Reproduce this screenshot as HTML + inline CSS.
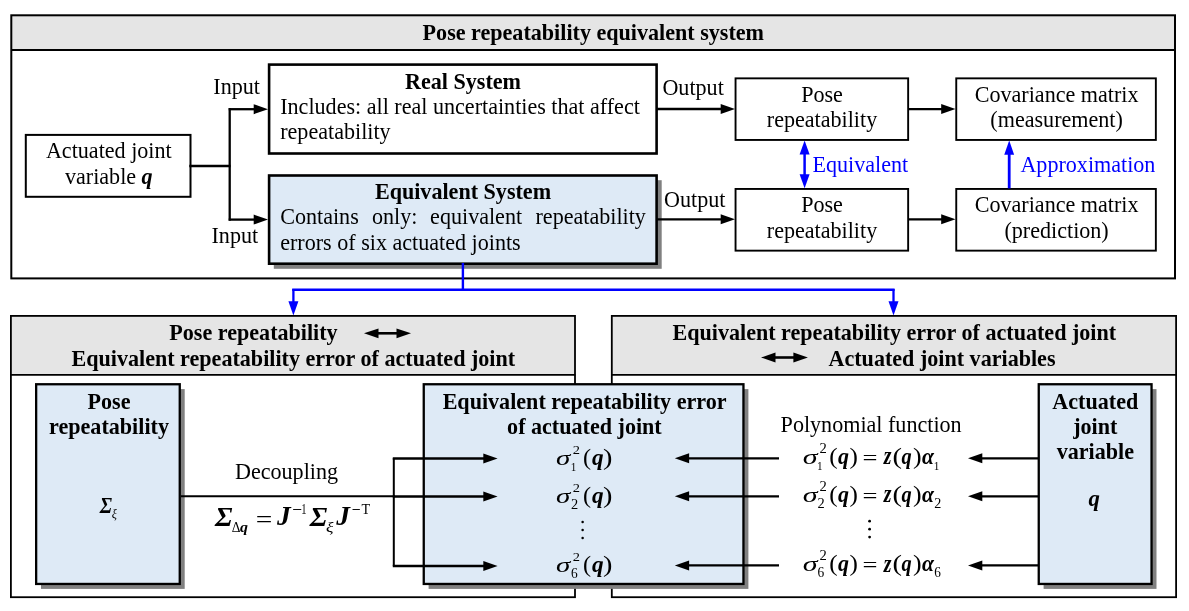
<!DOCTYPE html>
<html><head><meta charset="utf-8"><style>
html,body{margin:0;padding:0;background:#fff;}
svg{display:block;will-change:transform;}
text{font-family:"Liberation Serif",serif;font-size:22.1px;}
</style></head><body>
<svg width="1189" height="611" viewBox="0 0 1189 611">
<rect width="1189" height="611" fill="#fff"/>
<rect x="11" y="15.3" width="1164" height="34.8" fill="#e5e5e5"/>
<rect x="11.3" y="15.3" width="1163.7" height="263.1" fill="none" stroke="#000" stroke-width="2"/>
<line x1="11" y1="50.1" x2="1175" y2="50.1" stroke="#000" stroke-width="2"/>
<text x="593.3" y="40" text-anchor="middle" font-weight="bold">Pose repeatability equivalent system</text>
<rect x="25.8" y="134.9" width="164.7" height="61.9" fill="#fff" stroke="#000" stroke-width="2"/>
<text x="108.8" y="158" text-anchor="middle">Actuated joint</text>
<text x="108.8" y="183.7" text-anchor="middle">variable <tspan font-weight="bold" font-style="italic">q</tspan></text>
<line x1="189.3" y1="166" x2="230.6" y2="166" stroke="#000" stroke-width="2.5"/>
<line x1="229.7" y1="108.1" x2="229.7" y2="220.7" stroke="#000" stroke-width="2.3"/>
<line x1="228.7" y1="109.2" x2="254.7" y2="109.2" stroke="#000" stroke-width="2.3"/>
<polygon points="268,109.2 253.7,104.2 253.7,114.2" fill="#000"/>
<line x1="228.7" y1="219.6" x2="254.7" y2="219.6" stroke="#000" stroke-width="2.3"/>
<polygon points="268,219.6 253.7,214.6 253.7,224.6" fill="#000"/>
<text x="213.3" y="94.4">Input</text>
<text x="211.5" y="242.9">Input</text>
<rect x="269.1" y="64.6" width="387.5" height="88.9" fill="#fff" stroke="#000" stroke-width="2.6"/>
<text x="463" y="89.2" text-anchor="middle" font-weight="bold">Real System</text>
<text x="280.2" y="113.7">Includes: all real uncertainties that affect</text>
<text x="280.2" y="138.8">repeatability</text>
<rect x="273.8" y="180.2" width="387.9" height="88.6" fill="#808080"/>
<rect x="269.1" y="175.5" width="387.5" height="88.2" fill="#deeaf6" stroke="#000" stroke-width="2.6"/>
<text x="463" y="198.6" text-anchor="middle" font-weight="bold">Equivalent System</text>
<text x="280.2" y="223.6"><tspan x="280.2">Contains</tspan><tspan x="372">only:</tspan><tspan x="430.1">equivalent</tspan><tspan x="535.5">repeatability</tspan></text>
<text x="280.2" y="249.6">errors of six actuated joints</text>
<line x1="657" y1="109" x2="721.7" y2="109" stroke="#000" stroke-width="2.3"/>
<polygon points="735,109 720.7,104.0 720.7,114.0" fill="#000"/>
<line x1="657" y1="219.3" x2="721.7" y2="219.3" stroke="#000" stroke-width="2.3"/>
<polygon points="735,219.3 720.7,214.3 720.7,224.3" fill="#000"/>
<text x="662.4" y="94.6">Output</text>
<text x="664" y="206.8">Output</text>
<rect x="735.55" y="78.35" width="172.6" height="61.6" fill="#fff" stroke="#000" stroke-width="1.9"/>
<rect x="956.25" y="78.35" width="199.6" height="61.6" fill="#fff" stroke="#000" stroke-width="1.9"/>
<rect x="735.55" y="188.95" width="172.6" height="61.7" fill="#fff" stroke="#000" stroke-width="1.9"/>
<rect x="956.25" y="188.95" width="199.6" height="61.7" fill="#fff" stroke="#000" stroke-width="1.9"/>
<text x="822" y="102.1" text-anchor="middle">Pose</text>
<text x="822" y="127.3" text-anchor="middle">repeatability</text>
<text x="822" y="212.3" text-anchor="middle">Pose</text>
<text x="822" y="237.9" text-anchor="middle">repeatability</text>
<line x1="909" y1="109.1" x2="942.2" y2="109.1" stroke="#000" stroke-width="2.3"/>
<polygon points="955.5,109.1 941.2,104.1 941.2,114.1" fill="#000"/>
<line x1="909" y1="219.3" x2="942.2" y2="219.3" stroke="#000" stroke-width="2.3"/>
<polygon points="955.5,219.3 941.2,214.3 941.2,224.3" fill="#000"/>
<text x="1056.6" y="101.7" text-anchor="middle">Covariance matrix</text>
<text x="1056.6" y="127" text-anchor="middle">(measurement)</text>
<text x="1056.6" y="211.9" text-anchor="middle">Covariance matrix</text>
<text x="1056.6" y="237.9" text-anchor="middle">(prediction)</text>
<line x1="804.6" y1="153" x2="804.6" y2="176" stroke="#0000ff" stroke-width="2.5"/>
<polygon points="804.6,140.4 799.6,154.4 809.6,154.4" fill="#0000ff"/>
<polygon points="804.6,188.2 799.6,174.2 809.6,174.2" fill="#0000ff"/>
<line x1="1009.2" y1="188.4" x2="1009.2" y2="153.8" stroke="#0000ff" stroke-width="2.8"/>
<polygon points="1009.2,140.6 1004.25,154.8 1014.15,154.8" fill="#0000ff"/>
<text x="812.5" y="172.3" fill="#0000ff">Equivalent</text>
<text x="1020.4" y="172.3" fill="#0000ff">Approximation</text>
<line x1="462.9" y1="263" x2="462.9" y2="291" stroke="#0000ff" stroke-width="2.4"/>
<line x1="292.2" y1="289.75" x2="894.6" y2="289.75" stroke="#0000ff" stroke-width="2.3"/>
<line x1="293.4" y1="289" x2="293.4" y2="302.2" stroke="#0000ff" stroke-width="2.3"/>
<polygon points="293.4,315.5 288.4,301.2 298.4,301.2" fill="#0000ff"/>
<line x1="893.5" y1="289" x2="893.5" y2="302.2" stroke="#0000ff" stroke-width="2.3"/>
<polygon points="893.5,315.5 888.5,301.2 898.5,301.2" fill="#0000ff"/>
<rect x="10.75" y="315.7" width="564.4" height="59" fill="#e5e5e5"/>
<rect x="10.9" y="315.9" width="564.1" height="281.3" fill="none" stroke="#000" stroke-width="1.8"/>
<line x1="10.5" y1="374.9" x2="575.4" y2="374.9" stroke="#000" stroke-width="1.6"/>
<rect x="611.65" y="315.7" width="564.6" height="59" fill="#e5e5e5"/>
<rect x="611.8" y="315.9" width="564.3" height="281.3" fill="none" stroke="#000" stroke-width="1.8"/>
<line x1="611.4" y1="374.9" x2="1176.5" y2="374.9" stroke="#000" stroke-width="1.6"/>
<text x="253.5" y="340" text-anchor="middle" font-weight="bold">Pose repeatability</text>
<line x1="374" y1="333.3" x2="401" y2="333.3" stroke="#000" stroke-width="2.6"/>
<polygon points="364,333.3 378.5,328.4 378.5,338.2" fill="#000"/>
<polygon points="411,333.3 396.5,328.4 396.5,338.2" fill="#000"/>
<text x="293.3" y="365.9" text-anchor="middle" font-weight="bold">Equivalent repeatability error of actuated joint</text>
<text x="894.3" y="339.8" text-anchor="middle" font-weight="bold">Equivalent repeatability error of actuated joint</text>
<line x1="771" y1="357.5" x2="797.9" y2="357.5" stroke="#000" stroke-width="2.6"/>
<polygon points="761,357.5 775.5,352.6 775.5,362.4" fill="#000"/>
<polygon points="807.9,357.5 793.4,352.6 793.4,362.4" fill="#000"/>
<text x="942" y="365.8" text-anchor="middle" font-weight="bold">Actuated joint variables</text>
<rect x="41.0" y="389.1" width="143.7" height="199.8" fill="#808080"/>
<rect x="36.15" y="384.25" width="143.6" height="199.7" fill="#deeaf6" stroke="#000" stroke-width="2.3"/>
<text x="109" y="408.8" text-anchor="middle" font-weight="bold">Pose</text>
<text x="109" y="434.2" text-anchor="middle" font-weight="bold">repeatability</text>
<text transform="translate(99.72,512.70) scale(0.83,1)" style="font-size:23.92px" font-weight="bold" font-style="italic">Σ</text>
<text transform="translate(111.72,518.36) scale(0.93,1)" style="font-size:13.02px" font-style="italic">ξ</text>
<rect x="428.6" y="389.1" width="319.8" height="199.8" fill="#808080"/>
<rect x="423.75" y="384.25" width="319.7" height="199.7" fill="#deeaf6" stroke="#000" stroke-width="2.3"/>
<text x="584.6" y="408.8" text-anchor="middle" font-weight="bold">Equivalent repeatability error</text>
<text x="584.4" y="433.9" text-anchor="middle" font-weight="bold">of actuated joint</text>
<rect x="1043.6" y="389.1" width="112.9" height="199.8" fill="#808080"/>
<rect x="1038.75" y="384.25" width="112.8" height="199.7" fill="#deeaf6" stroke="#000" stroke-width="2.3"/>
<text x="1095.3" y="408.8" text-anchor="middle" font-weight="bold">Actuated</text>
<text x="1095.3" y="433.7" text-anchor="middle" font-weight="bold">joint</text>
<text x="1095.3" y="459.1" text-anchor="middle" font-weight="bold">variable</text>
<text transform="translate(1088.60,505.67) scale(0.97,1)" style="font-size:23.47px" font-weight="bold" font-style="italic">q</text>
<line x1="181" y1="496.2" x2="395" y2="496.2" stroke="#000" stroke-width="2"/>
<line x1="393.8" y1="458" x2="393.8" y2="566.2" stroke="#000" stroke-width="2"/>
<line x1="392.8" y1="458.5" x2="484.3" y2="458.5" stroke="#000" stroke-width="2.3"/>
<polygon points="497.6,458.5 483.3,453.5 483.3,463.5" fill="#000"/>
<line x1="392.8" y1="496.5" x2="484.3" y2="496.5" stroke="#000" stroke-width="2.3"/>
<polygon points="497.6,496.5 483.3,491.5 483.3,501.5" fill="#000"/>
<line x1="392.8" y1="566" x2="484.3" y2="566" stroke="#000" stroke-width="2.3"/>
<polygon points="497.6,566 483.3,561.0 483.3,571.0" fill="#000"/>
<text x="286.5" y="478.9" text-anchor="middle">Decoupling</text>
<text transform="translate(214.89,525.60) scale(1.06,1)" style="font-size:26.67px" font-weight="bold" font-style="italic">Σ</text>
<text transform="translate(231.78,532.00) scale(0.93,1)" style="font-size:14.59px">Δ</text>
<text transform="translate(240.00,532.16) scale(1.11,1)" style="font-size:14.36px" font-weight="bold" font-style="italic">q</text>
<text transform="translate(255.72,526.56) scale(1.28,1)" style="font-size:22.96px">=</text>
<text transform="translate(277.03,525.49) scale(1.04,1)" style="font-size:26.34px" font-weight="bold" font-style="italic">J</text>
<text transform="translate(292.28,516.30) scale(0.91,1)" style="font-size:19.20px">−</text>
<text transform="translate(301.37,513.70) scale(0.72,1)" style="font-size:14.73px">1</text>
<text transform="translate(309.78,525.90) scale(1.05,1)" style="font-size:26.97px" font-weight="bold" font-style="italic">Σ</text>
<text transform="translate(325.95,531.92) scale(1.18,1)" style="font-size:14.82px" font-style="italic">ξ</text>
<text transform="translate(336.23,525.49) scale(1.04,1)" style="font-size:26.34px" font-weight="bold" font-style="italic">J</text>
<text transform="translate(351.86,516.30) scale(0.82,1)" style="font-size:19.20px">−</text>
<text transform="translate(361.58,513.50) scale(0.96,1)" style="font-size:14.78px">T</text>
<text transform="translate(556.05,465.18) scale(1.4,1)" style="font-size:20.71px" font-style="italic">σ</text>
<text transform="translate(572.85,453.60) scale(1.12,1)" style="font-size:12.95px">2</text>
<text transform="translate(570.73,471.20) scale(0.94,1)" style="font-size:11.91px">1</text>
<text transform="translate(583.04,464.70) scale(1.02,1)" style="font-size:23.76px">(</text>
<text transform="translate(591.90,464.77) scale(0.99,1)" style="font-size:23.47px" font-weight="bold" font-style="italic">q</text>
<text transform="translate(603.12,464.70) scale(1.19,1)" style="font-size:23.76px">)</text>
<text transform="translate(802.63,464.07) scale(1.44,1)" style="font-size:20.89px" font-style="italic">σ</text>
<text transform="translate(819.44,452.80) scale(1.07,1)" style="font-size:13.69px">2</text>
<text transform="translate(816.92,470.00) scale(0.9,1)" style="font-size:12.50px">1</text>
<text transform="translate(829.21,463.70) scale(1.06,1)" style="font-size:23.76px">(</text>
<text transform="translate(838.10,463.89) scale(0.96,1)" style="font-size:22.90px" font-weight="bold" font-style="italic">q</text>
<text transform="translate(849.41,463.70) scale(1.06,1)" style="font-size:23.76px">)</text>
<text transform="translate(862.55,464.68) scale(1.26,1)" style="font-size:21.08px">=</text>
<text transform="translate(883.71,464.40) scale(0.8,1)" style="font-size:24.75px" font-weight="bold" font-style="italic">z</text>
<text transform="translate(892.41,463.70) scale(1.2,1)" style="font-size:23.76px">(</text>
<text transform="translate(901.60,463.89) scale(0.89,1)" style="font-size:22.90px" font-weight="bold" font-style="italic">q</text>
<text transform="translate(912.89,463.70) scale(1.09,1)" style="font-size:23.76px">)</text>
<text transform="translate(922.10,464.04) scale(0.94,1)" style="font-size:23.00px" font-weight="bold" font-style="italic">α</text>
<text transform="translate(933.73,469.90) scale(0.91,1)" style="font-size:12.35px">1</text>
<text transform="translate(556.05,503.18) scale(1.4,1)" style="font-size:20.71px" font-style="italic">σ</text>
<text transform="translate(572.85,491.60) scale(1.12,1)" style="font-size:12.95px">2</text>
<text transform="translate(571.05,509.20) scale(1.03,1)" style="font-size:13.99px">2</text>
<text transform="translate(583.04,502.70) scale(1.02,1)" style="font-size:23.76px">(</text>
<text transform="translate(591.90,502.77) scale(0.99,1)" style="font-size:23.47px" font-weight="bold" font-style="italic">q</text>
<text transform="translate(603.12,502.70) scale(1.19,1)" style="font-size:23.76px">)</text>
<text transform="translate(802.63,502.07) scale(1.44,1)" style="font-size:20.89px" font-style="italic">σ</text>
<text transform="translate(819.44,490.80) scale(1.07,1)" style="font-size:13.69px">2</text>
<text transform="translate(817.45,508.00) scale(1,1)" style="font-size:14.44px">2</text>
<text transform="translate(829.21,501.70) scale(1.06,1)" style="font-size:23.76px">(</text>
<text transform="translate(838.10,501.89) scale(0.96,1)" style="font-size:22.90px" font-weight="bold" font-style="italic">q</text>
<text transform="translate(849.41,501.70) scale(1.06,1)" style="font-size:23.76px">)</text>
<text transform="translate(862.55,502.68) scale(1.26,1)" style="font-size:21.08px">=</text>
<text transform="translate(883.71,502.40) scale(0.8,1)" style="font-size:24.75px" font-weight="bold" font-style="italic">z</text>
<text transform="translate(892.41,501.70) scale(1.2,1)" style="font-size:23.76px">(</text>
<text transform="translate(901.60,501.89) scale(0.89,1)" style="font-size:22.90px" font-weight="bold" font-style="italic">q</text>
<text transform="translate(912.89,501.70) scale(1.09,1)" style="font-size:23.76px">)</text>
<text transform="translate(922.10,502.04) scale(0.94,1)" style="font-size:23.00px" font-weight="bold" font-style="italic">α</text>
<text transform="translate(934.16,507.90) scale(0.99,1)" style="font-size:14.29px">2</text>
<text transform="translate(556.05,572.48) scale(1.4,1)" style="font-size:20.71px" font-style="italic">σ</text>
<text transform="translate(572.85,560.90) scale(1.12,1)" style="font-size:12.95px">2</text>
<text transform="translate(571.08,578.29) scale(0.98,1)" style="font-size:13.67px">6</text>
<text transform="translate(583.04,572.00) scale(1.02,1)" style="font-size:23.76px">(</text>
<text transform="translate(591.90,572.07) scale(0.99,1)" style="font-size:23.47px" font-weight="bold" font-style="italic">q</text>
<text transform="translate(603.12,572.00) scale(1.19,1)" style="font-size:23.76px">)</text>
<text transform="translate(802.63,571.37) scale(1.44,1)" style="font-size:20.89px" font-style="italic">σ</text>
<text transform="translate(819.44,560.10) scale(1.07,1)" style="font-size:13.69px">2</text>
<text transform="translate(817.48,577.08) scale(0.95,1)" style="font-size:14.11px">6</text>
<text transform="translate(829.21,571.00) scale(1.06,1)" style="font-size:23.76px">(</text>
<text transform="translate(838.10,571.19) scale(0.96,1)" style="font-size:22.90px" font-weight="bold" font-style="italic">q</text>
<text transform="translate(849.41,571.00) scale(1.06,1)" style="font-size:23.76px">)</text>
<text transform="translate(862.55,571.98) scale(1.26,1)" style="font-size:21.08px">=</text>
<text transform="translate(883.71,571.70) scale(0.8,1)" style="font-size:24.75px" font-weight="bold" font-style="italic">z</text>
<text transform="translate(892.41,571.00) scale(1.2,1)" style="font-size:23.76px">(</text>
<text transform="translate(901.60,571.19) scale(0.89,1)" style="font-size:22.90px" font-weight="bold" font-style="italic">q</text>
<text transform="translate(912.89,571.00) scale(1.09,1)" style="font-size:23.76px">)</text>
<text transform="translate(922.10,571.34) scale(0.94,1)" style="font-size:23.00px" font-weight="bold" font-style="italic">α</text>
<text transform="translate(934.19,576.98) scale(0.95,1)" style="font-size:13.96px">6</text>
<line x1="779" y1="458.3" x2="688.1" y2="458.3" stroke="#000" stroke-width="2.3"/>
<polygon points="674.8,458.3 689.1,453.3 689.1,463.3" fill="#000"/>
<line x1="1038" y1="458.3" x2="981.3" y2="458.3" stroke="#000" stroke-width="2.3"/>
<polygon points="968,458.3 982.3,453.3 982.3,463.3" fill="#000"/>
<line x1="779" y1="496.3" x2="688.1" y2="496.3" stroke="#000" stroke-width="2.3"/>
<polygon points="674.8,496.3 689.1,491.3 689.1,501.3" fill="#000"/>
<line x1="1038" y1="496.3" x2="981.3" y2="496.3" stroke="#000" stroke-width="2.3"/>
<polygon points="968,496.3 982.3,491.3 982.3,501.3" fill="#000"/>
<line x1="779" y1="565.4" x2="688.1" y2="565.4" stroke="#000" stroke-width="2.3"/>
<polygon points="674.8,565.4 689.1,560.4 689.1,570.4" fill="#000"/>
<line x1="1038" y1="565.4" x2="981.3" y2="565.4" stroke="#000" stroke-width="2.3"/>
<polygon points="968,565.4 982.3,560.4 982.3,570.4" fill="#000"/>
<text x="780.6" y="432">Polynomial function</text>
<circle cx="582.6" cy="521.9" r="1.25" fill="#000"/>
<circle cx="582.6" cy="529.9" r="1.25" fill="#000"/>
<circle cx="582.6" cy="537.9" r="1.25" fill="#000"/>
<circle cx="869.6" cy="521.2" r="1.4" fill="#000"/>
<circle cx="869.6" cy="529.2" r="1.4" fill="#000"/>
<circle cx="869.6" cy="537.1" r="1.4" fill="#000"/>
</svg>
</body></html>
